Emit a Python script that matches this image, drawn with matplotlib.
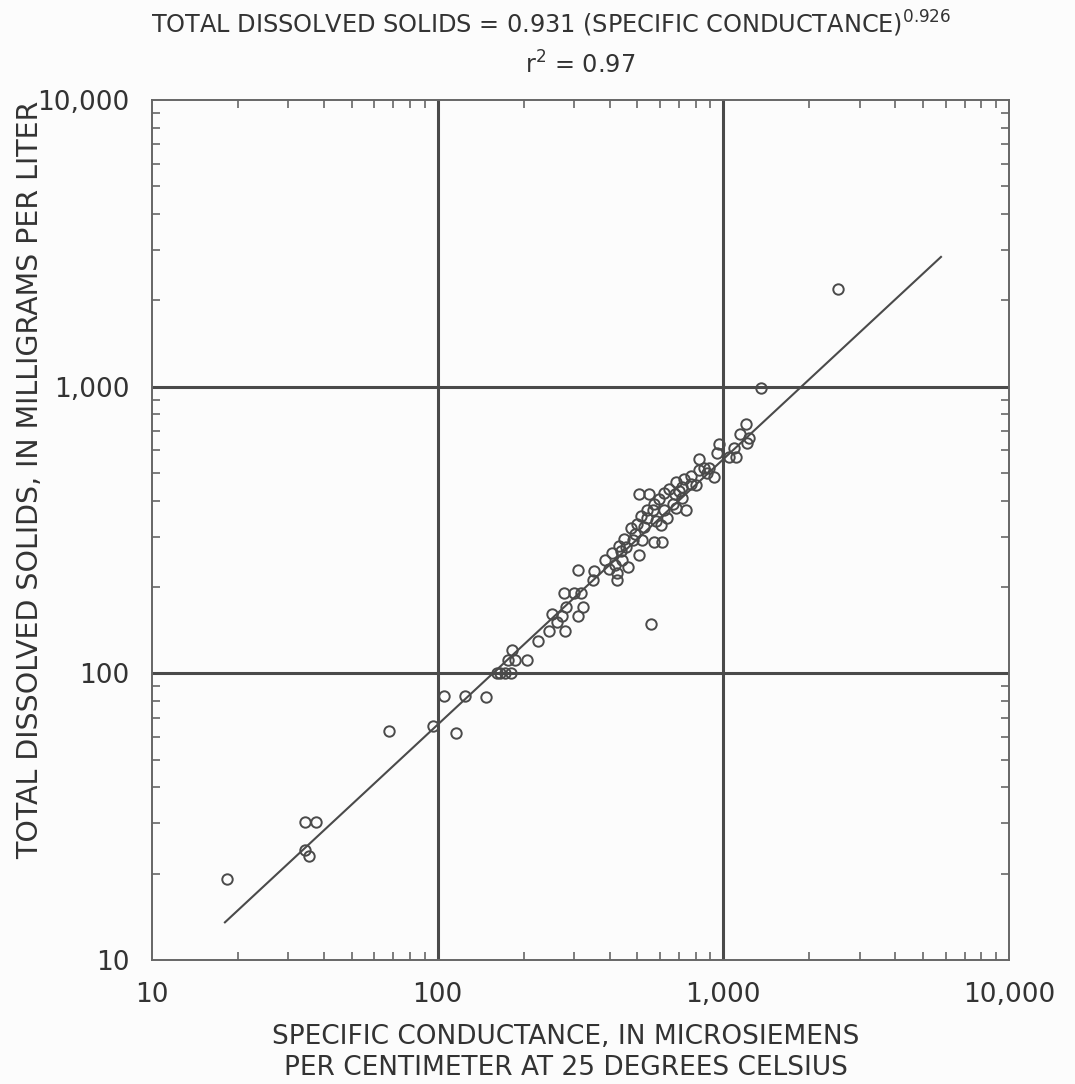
import numpy as np
import matplotlib
matplotlib.use("Agg")
import matplotlib.pyplot as plt
from matplotlib.ticker import LogLocator, FixedLocator, NullFormatter

plt.rcParams['font.family'] = ['DejaVu Sans']

# specific conductance (uS/cm at 25 C) and total dissolved solids (mg/L)
cond = [18.3, 34.3, 37.4, 34.3, 35.4, 67.5, 96.2, 115.6, 105, 125, 148, 161,
        309, 351, 276, 299, 318, 281, 322, 311, 252, 273, 261, 246, 278, 224,
        182, 187, 176, 206, 165, 172, 180,
        399, 416, 423, 426, 443, 465, 440, 458, 481, 505, 492, 521, 574, 612,
        529, 542, 583, 565, 622, 637, 607, 664, 685, 743, 675, 702, 719, 719,
        773, 805, 508, 550, 560, 825, 859, 894, 825, 931, 879, 953, 968, 1091,
        1108, 1049, 1213, 1203, 1146, 1233, 1358, 2525,
        354, 384, 406, 433, 450, 477, 500, 516, 542, 574, 597, 622, 647, 685,
        730, 773]
tds = [19.1, 30.3, 30.3, 24.2, 23.0, 62.8, 65.3, 61.8, 83.2, 83.2, 82.4, 100,
       230, 211, 190, 190, 190, 170, 170, 159, 161, 159, 151, 140, 140, 130,
       121, 111, 111, 111, 100, 100, 100,
       232, 238, 223, 211, 248, 234, 268, 275, 291, 258, 307, 291, 288, 288,
       325, 347, 341, 370, 370, 347, 328, 391, 376, 370, 423, 434, 445, 410,
       459, 452, 423, 423, 149, 561, 522, 522, 510, 482, 498, 585, 633, 612,
       566, 566, 638, 743, 686, 664, 993, 2193,
       228, 248, 262, 279, 295, 320, 333, 355, 370, 391, 407, 427, 441, 463,
       478, 486]

# regression TDS = 0.931 * SC ** 0.926
coef = 0.931
expo = 0.926
fit_range = [18, 5780]

decades = [10, 100, 1000, 10000]
decade_labels = ['10', '100', '1,000', '10,000']

ink = '#4a4a4a'
txt = '#333333'

fig = plt.figure(figsize=(10.75, 10.84), dpi=100, facecolor='#fcfcfc')
ax = fig.add_axes([0.1414, 0.1144, 0.7972, 0.7934])
ax.set_facecolor('#fcfcfc')
ax.set_xscale('log')
ax.set_yscale('log')
ax.set_xlim(10, 10000)
ax.set_ylim(10, 10000)

# decade grid lines
for d in decades[1:-1]:
    ax.axvline(d, color=ink, lw=2.2, zorder=1)
    ax.axhline(d, color=ink, lw=2.2, zorder=1)

xs = np.array(fit_range, dtype=float)
ax.plot(xs, coef * xs ** expo, color=ink, lw=1.5, zorder=2)

ax.plot(cond, tds, linestyle='none', marker='o', markersize=7.5,
        markerfacecolor='none', markeredgecolor=ink, markeredgewidth=1.4,
        zorder=3)

for s in ax.spines.values():
    s.set_color('#666666')
    s.set_linewidth(1.4)

for axis in (ax.xaxis, ax.yaxis):
    axis.set_major_locator(FixedLocator(decades))
    axis.set_minor_locator(LogLocator(base=10, subs=np.arange(2, 10)))
    axis.set_minor_formatter(NullFormatter())
ax.set_xticklabels(decade_labels)
ax.set_yticklabels(decade_labels)

ax.tick_params(which='major', length=0, pad=16, labelsize=19, labelcolor=txt)
ax.tick_params(which='minor', direction='in', length=6, width=1.2, color='#666666',
               top=True, right=True)

fig.text(0.526, 0.0295,
         'SPECIFIC CONDUCTANCE, IN MICROSIEMENS\nPER CENTIMETER AT 25 DEGREES CELSIUS',
         ha='center', va='center', fontsize=19, color=txt, linespacing=1.25)
fig.text(0.028, 0.557, 'TOTAL DISSOLVED SOLIDS, IN MILLIGRAMS PER LITER',
         ha='center', va='center', rotation=90, fontsize=20.5, color=txt)

fig.text(0.513, 0.978,
         'TOTAL DISSOLVED SOLIDS = 0.931 (SPECIFIC CONDUCTANCE)$^{0.926}$',
         ha='center', va='center', fontsize=17.3, color=txt)
fig.text(0.54, 0.940, 'r$^2$ = 0.97', ha='center', va='center',
         fontsize=17.3, color=txt)

fig.savefig('out.png', dpi=100, facecolor=fig.get_facecolor())
